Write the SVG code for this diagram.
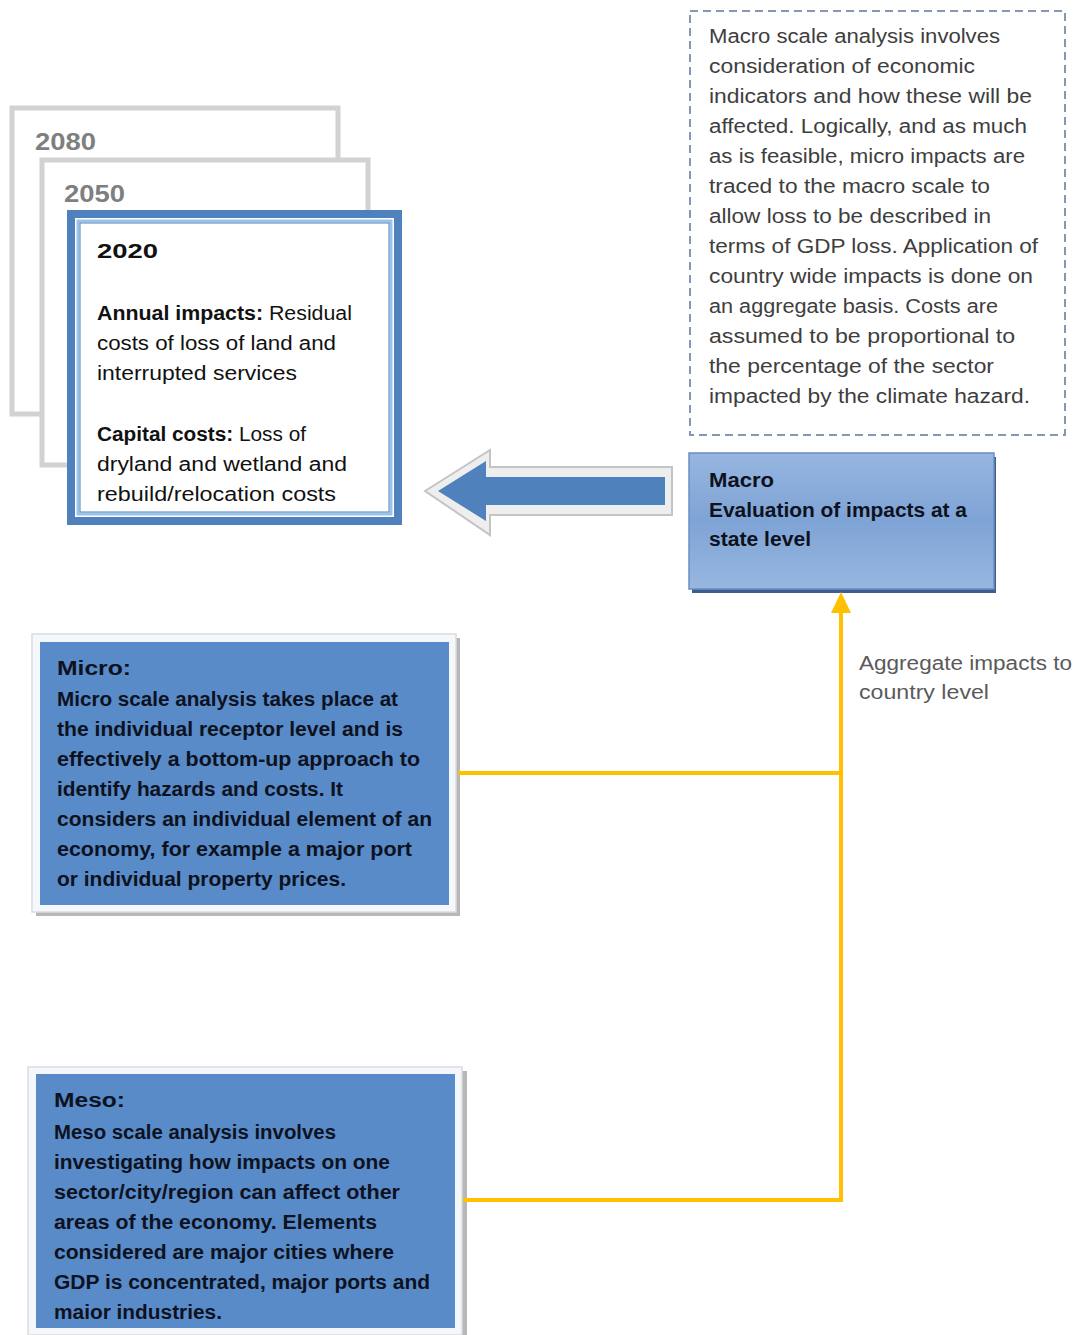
<svg xmlns="http://www.w3.org/2000/svg" width="1079" height="1335" viewBox="0 0 1079 1335">
<defs>
<linearGradient id="gMacro" x1="0" y1="0" x2="0" y2="1">
<stop offset="0" stop-color="#97b6e0"/>
<stop offset="0.5" stop-color="#7ea3d5"/>
<stop offset="1" stop-color="#98b7e0"/>
</linearGradient>
<marker id="ah" markerWidth="6" markerHeight="6" refX="5" refY="3" orient="auto" markerUnits="strokeWidth">
<path d="M0,0 L5,3 L0,6 Z" fill="#ffc000"/>
</marker>
</defs>
<style>
text{font-family:"Liberation Sans",Arial,sans-serif;font-size:20px}
.b{font-weight:bold}
.blk{fill:#111}
.dk{fill:#0e1220}
.gr{fill:#3e3e3e}
.lbl{fill:#5a5a5a}
.yr{font-weight:bold;fill:#7f7f7f;font-size:24px}
.conn{stroke:#ffc000;stroke-width:4;fill:none}
</style>
<rect width="1079" height="1335" fill="#ffffff"/>

<g id="box2080">
<rect x="12" y="108" width="326" height="306" fill="#fff" stroke="#d2d2d2" stroke-width="5"/>
<text x="35" y="150" class="yr" textLength="61" lengthAdjust="spacingAndGlyphs">2080</text>
</g>
<g id="box2050">
<rect x="42" y="160" width="326" height="305" fill="#fff" stroke="#d2d2d2" stroke-width="5"/>
<text x="64" y="202" class="yr" textLength="61" lengthAdjust="spacingAndGlyphs">2050</text>
</g>
<g id="box2020">
<rect x="71" y="214" width="327" height="307" fill="#fff" stroke="#4f81bd" stroke-width="8"/>
<rect x="78" y="221" width="313" height="293" fill="#fff" stroke="#9cc1eb" stroke-width="3"/>
<rect x="80" y="223" width="309" height="289" fill="#fff" stroke="#4f81bd" stroke-width="1"/>
<text x="97" y="258" class="b blk" font-size="24" textLength="61" lengthAdjust="spacingAndGlyphs">2020</text>
<text x="97" y="320" class="blk" textLength="255" lengthAdjust="spacingAndGlyphs"><tspan class="b">Annual impacts:</tspan> Residual</text>
<text x="97" y="350" class="blk" textLength="239" lengthAdjust="spacingAndGlyphs">costs of loss of land and</text>
<text x="97" y="380" class="blk" textLength="200" lengthAdjust="spacingAndGlyphs">interrupted services</text>
<text x="97" y="441" class="blk" textLength="209" lengthAdjust="spacingAndGlyphs"><tspan class="b">Capital costs:</tspan> Loss of</text>
<text x="97" y="471" class="blk" textLength="250" lengthAdjust="spacingAndGlyphs">dryland and wetland and</text>
<text x="97" y="501" class="blk" textLength="239" lengthAdjust="spacingAndGlyphs">rebuild/relocation costs</text>
</g>

<g id="bigArrow">
<polygon points="425,491 490,450 490,467 672,467 672,515 490,515 490,535" fill="#eeeeee" stroke="#c4c4c4" stroke-width="2" stroke-linejoin="miter"/>
<polygon points="438,491 486,461 486,477 665,477 665,505 486,505 486,521" fill="#4f81bd"/>
</g>

<g id="macroNote">
<rect x="690" y="11" width="375" height="424" fill="#fff" stroke="#8797b3" stroke-width="2" stroke-dasharray="8 5"/>
<text x="709" y="43" class="gr" textLength="291" lengthAdjust="spacingAndGlyphs">Macro scale analysis involves</text>
<text x="709" y="73" class="gr" textLength="266" lengthAdjust="spacingAndGlyphs">consideration of economic</text>
<text x="709" y="103" class="gr" textLength="323" lengthAdjust="spacingAndGlyphs">indicators and how these will be</text>
<text x="709" y="133" class="gr" textLength="318" lengthAdjust="spacingAndGlyphs">affected. Logically, and as much</text>
<text x="709" y="163" class="gr" textLength="316" lengthAdjust="spacingAndGlyphs">as is feasible, micro impacts are</text>
<text x="709" y="193" class="gr" textLength="281" lengthAdjust="spacingAndGlyphs">traced to the macro scale to</text>
<text x="709" y="223" class="gr" textLength="282" lengthAdjust="spacingAndGlyphs">allow loss to be described in</text>
<text x="709" y="253" class="gr" textLength="329" lengthAdjust="spacingAndGlyphs">terms of GDP loss. Application of</text>
<text x="709" y="283" class="gr" textLength="324" lengthAdjust="spacingAndGlyphs">country wide impacts is done on</text>
<text x="709" y="313" class="gr" textLength="289" lengthAdjust="spacingAndGlyphs">an aggregate basis. Costs are</text>
<text x="709" y="343" class="gr" textLength="306" lengthAdjust="spacingAndGlyphs">assumed to be proportional to</text>
<text x="709" y="373" class="gr" textLength="285" lengthAdjust="spacingAndGlyphs">the percentage of the sector</text>
<text x="709" y="403" class="gr" textLength="321" lengthAdjust="spacingAndGlyphs">impacted by the climate hazard.</text>
</g>

<g id="macro">
<rect x="692" y="457" width="304" height="136" fill="#3e5f8e"/>
<rect x="689" y="453" width="305" height="136" fill="url(#gMacro)" stroke="#6a8ec4" stroke-width="1.5"/>
<text x="709" y="487" class="b dk" textLength="65" lengthAdjust="spacingAndGlyphs">Macro</text>
<text x="709" y="517" class="b dk" textLength="258" lengthAdjust="spacingAndGlyphs">Evaluation of impacts at a</text>
<text x="709" y="546" class="b dk" textLength="102" lengthAdjust="spacingAndGlyphs">state level</text>
</g>

<g id="micro">
<rect x="36" y="638" width="424" height="278" fill="#b7b7b7"/>
<rect x="32" y="634" width="424" height="278" fill="#f4f8fc" stroke="#dcdcdc" stroke-width="1.5"/>
<rect x="40" y="642" width="409" height="263" fill="#588bc8"/>
<text x="57" y="675" class="b dk" textLength="74" lengthAdjust="spacingAndGlyphs">Micro:</text>
<text x="57" y="706" class="b dk" textLength="341" lengthAdjust="spacingAndGlyphs">Micro scale analysis takes place at</text>
<text x="57" y="736" class="b dk" textLength="346" lengthAdjust="spacingAndGlyphs">the individual receptor level and is</text>
<text x="57" y="766" class="b dk" textLength="363" lengthAdjust="spacingAndGlyphs">effectively a bottom-up approach to</text>
<text x="57" y="796" class="b dk" textLength="286" lengthAdjust="spacingAndGlyphs">identify hazards and costs. It</text>
<text x="57" y="826" class="b dk" textLength="375" lengthAdjust="spacingAndGlyphs">considers an individual element of an</text>
<text x="57" y="856" class="b dk" textLength="355" lengthAdjust="spacingAndGlyphs">economy, for example a major port</text>
<text x="57" y="886" class="b dk" textLength="289" lengthAdjust="spacingAndGlyphs">or individual property prices.</text>
</g>

<g id="meso">
<rect x="32" y="1071" width="435" height="268" fill="#b7b7b7"/>
<rect x="28" y="1067" width="434" height="268" fill="#f4f8fc" stroke="#dcdcdc" stroke-width="1.5"/>
<rect x="36" y="1074" width="419" height="254" fill="#588bc8"/>
<text x="54" y="1107" class="b dk" textLength="71" lengthAdjust="spacingAndGlyphs">Meso:</text>
<text x="54" y="1139" class="b dk" textLength="282" lengthAdjust="spacingAndGlyphs">Meso scale analysis involves</text>
<text x="54" y="1169" class="b dk" textLength="336" lengthAdjust="spacingAndGlyphs">investigating how impacts on one</text>
<text x="54" y="1199" class="b dk" textLength="346" lengthAdjust="spacingAndGlyphs">sector/city/region can affect other</text>
<text x="54" y="1229" class="b dk" textLength="323" lengthAdjust="spacingAndGlyphs">areas of the economy. Elements</text>
<text x="54" y="1259" class="b dk" textLength="340" lengthAdjust="spacingAndGlyphs">considered are major cities where</text>
<text x="54" y="1289" class="b dk" textLength="376" lengthAdjust="spacingAndGlyphs">GDP is concentrated, major ports and</text>
<text x="54" y="1319" class="b dk" textLength="168" lengthAdjust="spacingAndGlyphs">maior industries.</text>
</g>

<g id="connectors">
<path class="conn" d="M463,1200 H841 V612"/>
<polygon points="841,592 831,613 851,613" fill="#ffc000"/>
<path class="conn" d="M458,773 H841"/>
</g>

<g id="aggLabel">
<text x="859" y="670" class="lbl" textLength="213" lengthAdjust="spacingAndGlyphs">Aggregate impacts to</text>
<text x="859" y="699" class="lbl" textLength="130" lengthAdjust="spacingAndGlyphs">country level</text>
</g>
</svg>
